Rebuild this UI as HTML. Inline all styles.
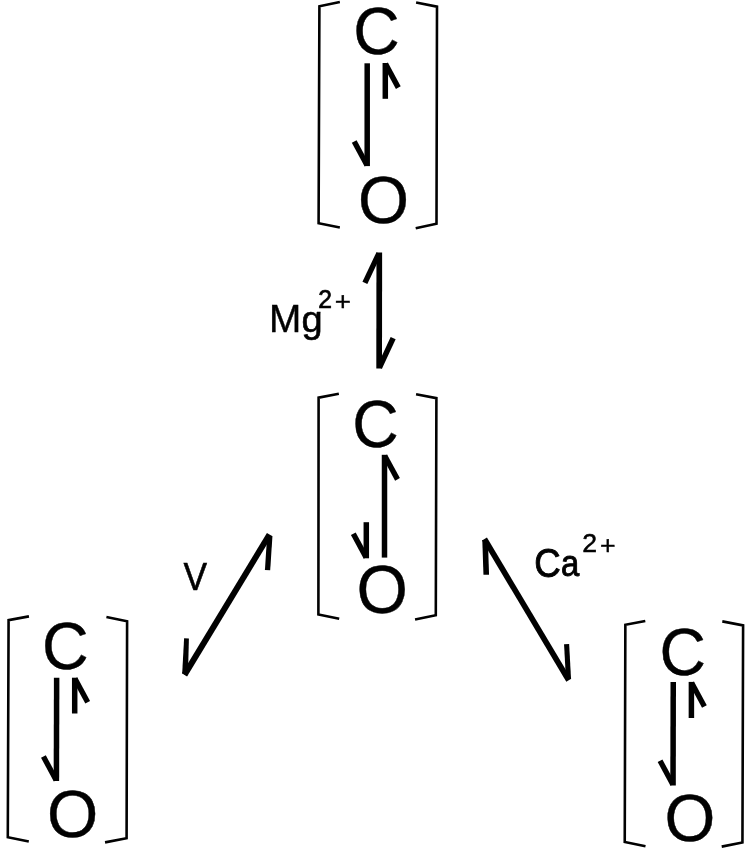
<!DOCTYPE html>
<html lang="en"><head><meta charset="utf-8"><title>CO coordination equilibria (Mg2+, V, Ca2+)</title>
<style>
html,body{margin:0;padding:0;background:#fff;}
body{width:746px;height:853px;overflow:hidden;}
svg{display:block;}
text{font-family:"Liberation Sans",sans-serif;font-size:100px;fill:#000;stroke:#000;stroke-linejoin:miter;vector-effect:non-scaling-stroke;}
.brackets polyline{fill:none;stroke:#000;stroke-linejoin:miter;stroke-linecap:butt;}
.arrows line{stroke:#000;stroke-linecap:butt;}
.arrows polygon{fill:#000;}
</style></head><body>
<svg width="746" height="853" viewBox="0 0 746 853" role="img" aria-label="Bracketed C-O units linked by equilibrium arrows labelled Mg2+, V and Ca2+">
<rect width="746" height="853" fill="#fff"/>
<!-- group opacity just below 1 forces grayscale (non-LCD) text antialiasing -->
<g opacity="0.999">
<g class="labels">
<text transform="matrix(0.6427 0 0 0.6667 353.24 54.05)" stroke-width="0.4">C</text>
<text transform="matrix(0.6563 0 0 0.6702 357.89 222.80)" stroke-width="0.4">O</text>
<text transform="matrix(0.6427 0 0 0.6723 352.24 446.54)" stroke-width="0.4">C</text>
<text transform="matrix(0.6614 0 0 0.6773 356.57 612.79)" stroke-width="0.4">O</text>
<text transform="matrix(0.6458 0 0 0.6744 42.02 669.14)" stroke-width="0.4">C</text>
<text transform="matrix(0.6592 0 0 0.6652 47.08 837.15)" stroke-width="0.4">O</text>
<text transform="matrix(0.6427 0 0 0.6702 659.44 674.80)" stroke-width="0.4">C</text>
<text transform="matrix(0.6534 0 0 0.6702 664.51 840.80)" stroke-width="0.4">O</text>
<text transform="matrix(0.3872 0 0 0.3830 269.02 331.65)" stroke-width="0.4">M</text>
<text transform="matrix(0.3802 0 0 0.3702 301.40 332.12)" stroke-width="0.6">g</text>
<text transform="matrix(0.2469 0 0 0.2513 318.16 307.75)" stroke-width="0.7">2</text>
<text transform="matrix(0.2779 0 0 0.2606 334.74 310.49)" stroke-width="0.4">&#43;</text>
<text transform="matrix(0.3525 0 0 0.3895 183.55 590.20)" stroke-width="0.6">V</text>
<text transform="matrix(0.3671 0 0 0.4061 534.19 576.50)" stroke-width="0.9">C</text>
<text transform="matrix(0.3280 0 0 0.3651 561.01 576.39)" stroke-width="0.9">a</text>
<text transform="matrix(0.2667 0 0 0.2564 582.36 551.85)" stroke-width="0.5">2</text>
<text transform="matrix(0.2676 0 0 0.2657 599.99 554.24)" stroke-width="0.4">&#43;</text>
</g>
<g class="brackets">
<polyline points="339.85,1.90 319.40,6.20 318.60,223.20 339.85,227.50" stroke-width="2.6"/>
<polyline points="416.10,2.50 437.00,6.60 436.50,223.70 415.70,228.20" stroke-width="2.6"/>
<polyline points="338.85,393.70 318.60,397.60 318.40,614.40 339.20,618.70" stroke-width="2.6"/>
<polyline points="416.06,394.20 436.40,398.10 435.80,615.20 415.05,619.40" stroke-width="2.6"/>
<polyline points="28.95,616.40 8.58,620.20 7.80,837.20 28.80,841.50" stroke-width="2.6"/>
<polyline points="106.40,617.10 127.10,621.30 126.60,838.20 105.05,842.40" stroke-width="2.6"/>
<polyline points="645.30,620.95 625.35,624.80 624.75,841.90 645.50,846.20" stroke-width="2.6"/>
<polyline points="722.30,621.40 743.10,625.40 742.45,842.50 721.70,846.60" stroke-width="2.6"/>
</g>
<g class="arrows">
<line x1="367.20" y1="63.30" x2="367.20" y2="166.10" stroke-width="5.5"/>
<line x1="367.00" y1="165.20" x2="354.20" y2="141.50" stroke-width="5.4"/>
<line x1="385.30" y1="63.00" x2="385.30" y2="98.80" stroke-width="5.5"/>
<line x1="385.50" y1="63.90" x2="398.30" y2="87.60" stroke-width="5.4"/>
<line x1="384.50" y1="454.80" x2="384.50" y2="557.60" stroke-width="5.5"/>
<line x1="384.70" y1="455.70" x2="397.50" y2="479.40" stroke-width="5.4"/>
<line x1="366.30" y1="522.20" x2="366.30" y2="558.30" stroke-width="5.5"/>
<line x1="366.10" y1="557.40" x2="353.30" y2="533.70" stroke-width="5.4"/>
<line x1="56.65" y1="677.70" x2="56.40" y2="781.10" stroke-width="5.5"/>
<line x1="56.20" y1="780.20" x2="43.40" y2="756.50" stroke-width="5.4"/>
<line x1="74.70" y1="677.70" x2="74.70" y2="713.50" stroke-width="5.5"/>
<line x1="74.90" y1="678.60" x2="87.70" y2="702.30" stroke-width="5.4"/>
<line x1="673.25" y1="682.10" x2="673.05" y2="785.40" stroke-width="5.5"/>
<line x1="672.85" y1="784.50" x2="660.05" y2="760.80" stroke-width="5.4"/>
<line x1="691.40" y1="681.90" x2="691.40" y2="718.00" stroke-width="5.5"/>
<line x1="691.60" y1="682.80" x2="704.40" y2="706.50" stroke-width="5.4"/>
<line x1="379.30" y1="252.50" x2="379.15" y2="368.40" stroke-width="5.7"/>
<line x1="378.90" y1="253.30" x2="364.90" y2="282.80" stroke-width="5.4"/>
<line x1="379.45" y1="367.55" x2="393.15" y2="338.20" stroke-width="5.5"/>
<line x1="269.50" y1="534.50" x2="184.50" y2="674.90" stroke-width="6.0"/>
<line x1="269.80" y1="535.90" x2="267.55" y2="570.20" stroke-width="5.3"/>
<polygon points="184.1,638.3 188.9,638.6 188.3,662.5 187.1,676.1 182.2,673.3"/>
<line x1="484.50" y1="539.05" x2="568.75" y2="680.30" stroke-width="5.7"/>
<line x1="485.10" y1="540.00" x2="486.25" y2="574.75" stroke-width="5.6"/>
<line x1="568.50" y1="679.05" x2="566.60" y2="644.05" stroke-width="5.1"/>
</g>
</g>
</svg>
</body></html>
